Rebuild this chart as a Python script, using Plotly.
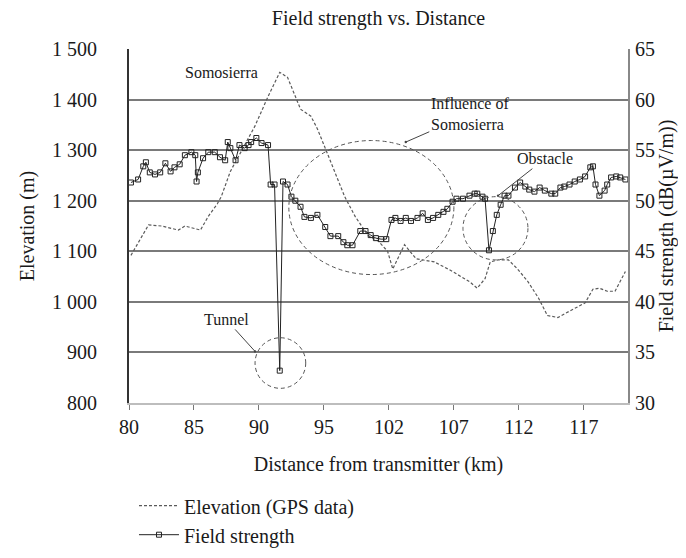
import plotly.graph_objects as go

# x positions are on the plotted (evenly spaced) scale, tick labels below
x_tick_vals = [80, 85, 90, 95, 100, 105, 110, 115]
x_tick_labels = ["80", "85", "90", "95", "102", "107", "112", "117"]

elev_x = [80.15, 81.5, 82.5, 83.8, 84.3, 85.5, 86.1, 86.8, 87.1, 87.8, 88.9, 89.7,
          90.7, 91.6, 92.2, 92.8, 93.2, 94.0, 94.5, 95.1, 95.8, 96.6, 97.4, 98.4,
          99.2, 99.9, 100.3, 101.2, 102.1, 103.5, 104.7, 106.2, 106.8, 107.4, 107.8,
          108.4, 109.2, 109.9, 110.7, 111.5, 112.2, 113.0, 114.0, 115.1, 115.7,
          116.2, 116.8, 117.4, 118.2]
elev_m = [1092, 1152, 1150, 1142, 1150, 1142, 1169, 1194, 1208, 1258, 1310, 1348,
          1406, 1454, 1444, 1406, 1381, 1367, 1342, 1304, 1258, 1208, 1169, 1131,
          1120, 1100, 1065, 1113, 1085, 1079, 1063, 1040, 1027, 1046, 1079,
          1083, 1083, 1065, 1040, 1008, 973, 969, 983, 998, 1025,
          1027, 1021, 1021, 1060]

fs_x = [80.15, 80.7, 81.1, 81.3, 81.6, 82.0, 82.4, 82.8, 83.2, 83.5, 83.9, 84.3,
        84.8, 85.1, 85.2, 85.3, 85.7, 86.1, 86.6, 87.0, 87.4, 87.6, 87.8, 88.2,
        88.5, 88.9, 89.2, 89.4, 89.8, 90.2, 90.7, 90.9, 91.2, 91.6, 91.85, 92.2,
        92.5, 92.8, 93.2, 93.5, 94.0, 94.5, 95.1, 95.5, 96.1, 96.5, 96.8, 97.2,
        97.8, 98.2, 98.6, 99.0, 99.4, 99.8, 100.2, 100.5, 100.9, 101.3, 101.7,
        102.2, 102.6, 103.0, 103.4, 103.8, 104.2, 104.5, 104.9, 105.2, 105.7,
        106.2, 106.6, 106.8, 107.2, 107.4, 107.7, 108.0, 108.3, 108.6, 108.9,
        109.2, 109.7, 110.1, 110.5, 110.8, 111.2, 111.6, 112.0, 112.5, 112.8,
        113.2, 113.5, 113.9, 114.3, 114.7, 115.1, 115.5, 115.7, 115.9, 116.2,
        116.6, 116.8, 117.1, 117.5, 117.8, 118.2]
fs_db = [51.8, 52.1, 53.4, 53.8, 52.8, 52.6, 52.8, 53.7, 52.9, 53.3, 53.6, 54.5,
         54.8, 54.5, 51.9, 52.8, 54.2, 54.8, 54.8, 54.3, 54.0, 55.8, 55.2, 54.0,
         55.5, 55.2, 55.5, 55.8, 56.2, 55.7, 55.5, 51.6, 51.6, 33.2, 51.9, 51.6,
         50.4, 50.0, 49.4, 48.4, 48.3, 48.6, 47.4, 46.5, 46.5, 45.9, 45.6, 45.6,
         47.0, 47.0, 46.6, 46.3, 46.2, 46.2, 48.1, 48.3, 48.0, 48.3, 48.0,
         48.3, 48.75, 48.1, 48.3, 48.6, 48.9, 49.2, 49.9, 50.2, 50.2,
         50.5, 50.7, 50.7, 50.4, 50.2, 45.1, 47.0, 48.6, 49.6, 50.5,
         50.5, 51.3, 51.8, 51.4, 51.1, 50.9, 51.3, 51.0, 50.7, 50.7,
         51.3, 51.4, 51.6, 51.9, 52.1, 52.4, 53.3, 53.4, 51.6, 50.5,
         51.0, 51.6, 52.3, 52.4, 52.3, 52.1]

serif = "Liberation Serif"
ink = "#1a1a1a"

fig = go.Figure()
fig.add_trace(go.Scatter(x=elev_x, y=elev_m, mode="lines", name="Elevation (GPS data)",
                         line=dict(color="#5a5a5a", width=1.2, dash="3px,2px")))
fig.add_trace(go.Scatter(x=fs_x, y=fs_db, mode="lines+markers", name="Field strength",
                         yaxis="y2",
                         line=dict(color="#222", width=1),
                         marker=dict(symbol="square-open", size=5, color="#222",
                                     line=dict(width=1))))

# circles around the features of interest (elevation axis units)
circle = dict(type="circle", xref="x", yref="y",
              line=dict(color="#555", width=1, dash="4px,3px"))
fig.add_shape(x0=89.7, x1=93.6, y0=829, y1=929, **circle)
fig.add_shape(x0=92.3, x1=105.0, y0=1054, y1=1319, **circle)
fig.add_shape(x0=105.7, x1=110.7, y0=1083, y1=1208, **circle)

note = dict(xref="x", yref="y", showarrow=True, arrowhead=6, arrowsize=0.6,
            arrowwidth=1, arrowcolor="#444", font=dict(family=serif, size=16, color=ink))
fig.add_annotation(x=89.7, y=902, text="Tunnel", ax=-29, ay=-32, **note)
fig.add_annotation(x=108.4, y=1210, text="Obstacle", ax=47, ay=-37, **note)
fig.add_annotation(x=101.3, y=1316, text="Influence of<br>Somosierra", align="left",
                   ax=64, ay=-28, **note)
fig.add_annotation(x=87.1, y=1454, text="Somosierra", showarrow=False, xref="x", yref="y",
                   font=dict(family=serif, size=16, color=ink))

fig.update_layout(
    width=686, height=558,
    margin=dict(l=121, r=66, t=41, b=153),
    paper_bgcolor="white", plot_bgcolor="white",
    separators=". ",
    font=dict(family=serif, size=20, color=ink),
    title=dict(text="Field strength vs. Distance", x=0.5, xref="paper", y=0.982,
               yanchor="middle", font=dict(family=serif, size=20)),
    showlegend=True,
    legend=dict(x=0.01, y=-0.235, xanchor="left", yanchor="top",
                font=dict(family=serif, size=20), tracegroupgap=3, itemwidth=40),
    xaxis=dict(range=[80, 118.4], tickvals=x_tick_vals, ticktext=x_tick_labels,
               showgrid=False, zeroline=False, showline=True, linecolor="#bdbdbd",
               linewidth=2, ticks="outside", ticklen=5, tickcolor="#777",
               tickfont=dict(family=serif, size=20),
               title=dict(text="Distance from transmitter (km)", standoff=20,
                          font=dict(family=serif, size=20))),
    yaxis=dict(range=[800, 1500], dtick=100, tickformat=",d", showgrid=True,
               gridcolor="#7a7a7a", gridwidth=1.5, zeroline=False, showline=True,
               linecolor="#333", linewidth=2, ticks="", ticklabelstandoff=26,
               tickfont=dict(family=serif, size=20),
               title=dict(text="Elevation (m)", standoff=12,
                          font=dict(family=serif, size=20))),
    yaxis2=dict(range=[30, 65], dtick=5, overlaying="y", side="right", showgrid=False,
                zeroline=False, showline=True, linecolor="#888", linewidth=2,
                ticks="", ticklabelstandoff=1, tickfont=dict(family=serif, size=20),
                title=dict(text="Field strength (dB(µV/m))", standoff=0,
                           font=dict(family=serif, size=20))),
)

fig.write_html("out.html")
